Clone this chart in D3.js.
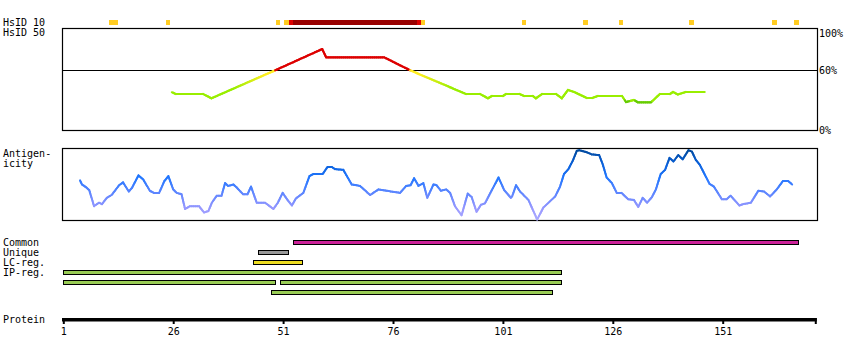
<!DOCTYPE html>
<html><head><meta charset="utf-8">
<script src="https://cdn.jsdelivr.net/npm/d3@7"></script>
<style>
body{margin:0;background:#fff}
svg{display:block}
text{font-family:"DejaVu Sans Mono",monospace;font-size:10px;fill:#000}
</style>
</head><body><svg id="chart" width="850" height="360"></svg>
<script>
// ---------------- data ----------------
const proteinLength = 172;
const tickValues = [1, 26, 51, 76, 101, 126, 151];
const identityTicks = [100, 60, 0];
const identityTickLabels = ["100%", "60%", "0%"];

// HsID 10 residues (per-residue marks)
const hsid10Orange = [12, 13, 25, 50, 52, 83, 106, 120, 128, 144, 163, 168];
const hsid10Red = [53, 82];
const hsid10DarkRed = [54, 55, 56, 57, 58, 59, 60, 61, 62, 63, 64, 65, 66, 67, 68, 69, 70, 71, 72, 73, 74, 75, 76, 77, 78, 79, 80, 81];

// HsID 50 identity curve (%)
const hsid50Residue = [25.7,26.6,32.8,34.7,49.2,59.9,60.8,74.0,79.9,92.6,95.8,97.6,98.5,101.0,101.7,104.8,105.8,107.8,108.5,109.9,113.1,114.4,115.8,117.2,120.1,121.3,122.6,128.1,129.0,130.8,131.7,134.7,136.7,139.0,139.7,140.8,142.6,146.9];
const hsid50Identity = [38.1,36.4,36.4,32.1,60,81.2,72.9,72.9,60,36.4,36.4,32.1,34.4,34.4,36.4,36.4,34.4,34.4,32.1,36.4,36.4,32.1,40.4,38.4,32.4,32.4,34.4,34.4,28.4,30.4,28.1,28.1,36.4,36.4,38.4,35.9,38.4,38.4];

// Antigenicity (relative score 0..1)
const antigenResidue = [4.8,5.25,6.2,6.9,8.0,9.1,9.8,10.9,12.0,13.7,14.6,15.9,16.6,18.1,19.2,20.7,21.6,22.8,24.0,24.9,26.0,26.8,27.9,28.7,29.8,31.9,33.0,34.0,34.8,35.9,37.0,37.8,38.5,39.7,40.4,41.9,42.9,43.7,45.0,46.9,48.8,49.8,50.9,52.0,53.0,53.9,55.6,57.0,57.9,60.0,61.1,62.1,62.8,64.7,66.6,68.5,70.8,72.7,74.6,77.6,79.0,80.0,80.8,81.8,82.9,83.8,85.2,85.9,86.9,88.1,89.0,90.1,91.6,93.0,93.9,95.0,96.0,96.9,100.0,101.3,102.8,103.1,104.0,104.9,106.8,108.8,110.2,112.9,114.0,114.9,115.9,116.9,117.8,118.4,120.1,121.2,122.9,123.7,124.6,125.8,126.9,128.0,129.5,130.8,131.8,132.8,133.8,134.9,135.8,136.9,137.9,138.9,139.8,140.9,141.9,143.2,144.0,144.9,145.8,148.0,149.0,150.8,151.9,152.8,154.8,155.7,157.4,159.1,160.4,161.8,163.3,164.7,165.9,166.8];
const antigenValue = [0.56,0.50,0.46,0.42,0.19,0.24,0.22,0.31,0.35,0.49,0.53,0.40,0.45,0.63,0.57,0.41,0.38,0.38,0.55,0.62,0.43,0.38,0.36,0.15,0.19,0.19,0.10,0.12,0.24,0.34,0.34,0.52,0.48,0.50,0.46,0.36,0.36,0.47,0.24,0.24,0.15,0.24,0.38,0.28,0.20,0.30,0.38,0.62,0.65,0.65,0.75,0.75,0.72,0.71,0.50,0.48,0.35,0.43,0.41,0.38,0.48,0.49,0.59,0.48,0.52,0.31,0.50,0.49,0.41,0.43,0.38,0.19,0.06,0.37,0.32,0.11,0.21,0.23,0.60,0.42,0.31,0.33,0.49,0.40,0.28,0.00,0.17,0.33,0.47,0.65,0.72,0.84,0.98,0.99,0.96,0.93,0.92,0.79,0.60,0.52,0.38,0.38,0.29,0.28,0.18,0.31,0.24,0.32,0.43,0.65,0.71,0.88,0.83,0.92,0.86,0.99,0.97,0.85,0.78,0.51,0.47,0.29,0.29,0.34,0.20,0.22,0.24,0.41,0.40,0.33,0.43,0.55,0.55,0.50];

// Features
const featureLabels = ["Common", "Unique", "LC-reg.", "IP-reg."];
const featureType  = ["Common", "Unique", "LC-reg.", "IP-reg.", "IP-reg.", "IP-reg.", "IP-reg."];
const featureRow   = [0, 1, 2, 3, 4, 4, 5];
const featureStart = [53.3, 45.4, 44.2, 1, 1, 50.3, 48.2];
const featureEnd   = [168.3, 52.4, 55.5, 114.4, 49.3, 114.4, 112.3];

// ---------------- drawing ----------------
const svg = d3.select("#chart");
const x = d3.scaleLinear().domain([1, 151]).range([63.3, 722.7]);
const plotLeft = 62.5, plotRight = 817.5;

// left labels
const leftLabels = [
  ["HsID 10", 26], ["HsID 50", 36], ["Antigen-", 157], ["icity", 167],
  ["Common", 246], ["Unique", 256], ["LC-reg.", 266], ["IP-reg.", 276], ["Protein", 323]
];
svg.selectAll("text.left").data(leftLabels).join("text")
  .attr("class", "left").attr("x", 3).attr("y", d => d[1]).text(d => d[0]);

// HsID 10 marks
const resW = x(2) - x(1);
const marks = [
  ...hsid10Orange.map(p => ({p, c: "#ffcc22"})),
  ...hsid10Red.map(p => ({p, c: "#dd0000"})),
  ...hsid10DarkRed.map(p => ({p, c: "#990000"}))
];
svg.append("g").attr("shape-rendering", "crispEdges")
  .selectAll("rect").data(marks).join("rect")
  .attr("x", d => x(d.p - 0.7)).attr("y", 20).attr("width", resW + 0.3).attr("height", 5)
  .attr("fill", d => d.c);

// Identity panel
const yId = d3.scaleLinear().domain([0, 100]).range([130.5, 30.2]);
svg.append("rect").attr("x", plotLeft).attr("y", 28.5).attr("width", plotRight - plotLeft).attr("height", 102)
  .attr("fill", "none").attr("stroke", "#000").attr("stroke-width", 1.2);
svg.append("line").attr("x1", plotLeft).attr("x2", plotRight).attr("y1", 70.5).attr("y2", 70.5)
  .attr("stroke", "#000").attr("stroke-width", 1.2);
svg.selectAll("text.pct").data(identityTicks).join("text").attr("class", "pct")
  .attr("x", 819).attr("y", (d, i) => [36.5, 74, 134][i]).text((d, i) => identityTickLabels[i]);

function idColor(v) {
  if (v >= 60) return "#dd0000";
  if (v < 29.5) return "#66cc00";
  if (v < 42) return "#99ee00";
  if (v < 56) return d3.interpolateRgb("#99ee00", "#ffee22")((v - 42) / 14);
  return "#ffee22";
}
const antigenScale = d3.scaleLinear().domain([0, 0.15, 0.35, 0.6, 0.8, 1])
  .range(["#aaaaff", "#9999ff", "#6688ff", "#2277ff", "#0a60d8", "#00489a"]);
function antigenColor(v) { return antigenScale(v); }

// split segments for per-piece colouring (rendering only)
function pieces(xs, ys, xf, yf, colorF) {
  const out = [];
  for (let i = 0; i < xs.length - 1; i++) {
    const x0 = xf(xs[i]), x1 = xf(xs[i + 1]), y0 = yf(ys[i]), y1 = yf(ys[i + 1]);
    const len = Math.hypot(x1 - x0, y1 - y0);
    const n = Math.max(1, Math.ceil(len / 2));
    for (let k = 0; k < n; k++) {
      const t0 = k / n, t1 = (k + 1) / n, tm = (t0 + t1) / 2;
      out.push({
        x0: x0 + (x1 - x0) * t0, y0: y0 + (y1 - y0) * t0,
        x1: x0 + (x1 - x0) * t1, y1: y0 + (y1 - y0) * t1,
        c: colorF(ys[i] + (ys[i + 1] - ys[i]) * tm)
      });
    }
  }
  return out;
}
svg.append("g").selectAll("line")
  .data(pieces(hsid50Residue, hsid50Identity, x, yId, idColor)).join("line")
  .attr("x1", d => d.x0).attr("y1", d => d.y0).attr("x2", d => d.x1).attr("y2", d => d.y1)
  .attr("stroke", d => d.c).attr("stroke-width", 2.2).attr("stroke-linecap", "round");

// Antigenicity panel
const yAg = d3.scaleLinear().domain([0, 1]).range([219.5, 149.5]);
svg.append("rect").attr("x", plotLeft).attr("y", 148.5).attr("width", plotRight - plotLeft).attr("height", 72)
  .attr("fill", "none").attr("stroke", "#000").attr("stroke-width", 1.2);
svg.append("g").selectAll("line")
  .data(pieces(antigenResidue, antigenValue, x, yAg, antigenColor)).join("line")
  .attr("x1", d => d.x0).attr("y1", d => d.y0).attr("x2", d => d.x1).attr("y2", d => d.y1)
  .attr("stroke", d => d.c).attr("stroke-width", 2).attr("stroke-linecap", "round");

// Feature bars
const featureColor = {"Common": "#cc2299", "Unique": "#999999", "LC-reg.": "#eedd22", "IP-reg.": "#99cc55"};
const feats = featureType.map((t, i) => ({t, row: featureRow[i], s: featureStart[i], e: featureEnd[i]}));
svg.append("g").attr("shape-rendering", "crispEdges")
  .selectAll("rect").data(feats).join("rect")
  .attr("x", d => Math.round(x(d.s)) + 0.5)
  .attr("y", d => 240.5 + d.row * 10)
  .attr("width", d => Math.round(x(d.e)) - Math.round(x(d.s)) - 1)
  .attr("height", 4)
  .attr("fill", d => featureColor[d.t]).attr("stroke", "#000").attr("stroke-width", 1);

// Protein axis
const axisEnd = x(proteinLength + 0.4);
const axisG = svg.append("g").attr("transform", "translate(0,318)");
axisG.append("rect").attr("x", 62).attr("y", 0).attr("width", axisEnd - 62).attr("height", 3.5).attr("fill", "#000");
const axis = d3.axisBottom(x).tickValues(tickValues).tickSize(6).tickPadding(4);
const ag = axisG.append("g").call(axis);
ag.select(".domain").remove();
ag.selectAll(".tick line").attr("stroke", "#000").attr("stroke-width", 2);
ag.selectAll(".tick text").attr("font-family", "DejaVu Sans Mono, monospace").attr("font-size", 10).attr("fill", "#000");
axisG.append("line").attr("x1", axisEnd - 1).attr("x2", axisEnd - 1).attr("y1", 0).attr("y2", 6)
  .attr("stroke", "#000").attr("stroke-width", 2);
</script>
</body></html>
